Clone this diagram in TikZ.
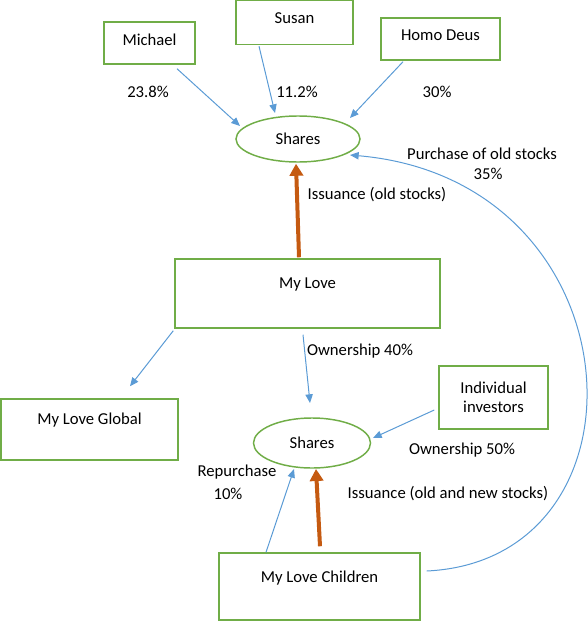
\documentclass[tikz,border=0pt]{standalone}
\usepackage{fontspec}
\setmainfont{Carlito}
\usetikzlibrary{calc,arrows.meta,shapes.geometric}
\definecolor{bgreen}{HTML}{70AD47}
\definecolor{ablue}{HTML}{5B9BD5}
\definecolor{aorange}{HTML}{C55A11}
\begin{document}
\begin{tikzpicture}[x=0.75pt,y=-0.75pt,
  every node/.style={font=\fontsize{12.5}{15}\selectfont, text=black},
  box/.style={draw=bgreen, line width=1.1pt, rectangle, inner sep=0pt},
  shareell/.style={draw=bgreen, line width=1.1pt, ellipse, inner sep=0pt},
  arr/.style={draw=ablue, line width=0.75pt, -{Triangle[length=6.5pt,width=5.5pt]}},
  bigarr/.style={draw=aorange, line width=3pt, -{Triangle[length=9pt,width=10pt]}},
  lbl/.style={inner sep=0pt, align=center}]
\useasboundingbox (0,0) rectangle (587,621);
% boxes
\node[box, minimum width=68.25pt, minimum height=31.5pt,
  label={[shift={(0,-3)}]center:Michael}] (michael) at (149.5,43) {};
\node[box, minimum width=87.75pt, minimum height=33pt,
  label={[shift={(0,-4)}]center:Susan}] (susan) at (294.5,22.5) {};
\node[box, minimum width=89.25pt, minimum height=31.5pt,
  label={[shift={(0,-4)}]center:Homo Deus}] (homo) at (440.5,39) {};
\node[box, minimum width=198.75pt, minimum height=51.75pt,
  label={[shift={(0,-9.5)}]center:My Love}] (mylove) at (307.5,293.5) {};
\node[box, minimum width=132.75pt, minimum height=45.75pt,
  label={[shift={(0,-9.5)}]center:My Love Global}] (global) at (89.5,429.5) {};
\node[box, minimum width=81.75pt, minimum height=47.25pt, align=center] (indiv) at (493.5,397.5) {Individual\\[-1pt]investors};
\node[box, minimum width=150.75pt, minimum height=50.25pt,
  label={[shift={(0,-8.5)}]center:My Love Children}] (children) at (319.5,586.5) {};
% ellipses
\node[shareell, minimum width=93pt, minimum height=34.5pt] (sh1) at (298,139) {Shares};
\node[shareell, minimum width=87.75pt, minimum height=37.5pt] (sh2) at (312,443) {Shares};
% labels
\node[lbl] (l1) at (148,92) {23.8\%};
\node[lbl] (l2) at (297,92) {11.2\%};
\node[lbl] (l3) at (437,92) {30\%};
\node[lbl] (l4) at (482,154) {Purchase of old stocks};
\node[lbl] (l5) at (488,174) {35\%};
\node[lbl] (l6) at (377,195) {Issuance (old stocks)};
\node[lbl] (l7) at (360,351) {Ownership 40\%};
\node[lbl] (l8) at (462,450) {Ownership 50\%};
\node[lbl] (l9) at (237,472) {Repurchase};
\node[lbl] (l10) at (228,494) {10\%};
\node[lbl] (l11) at (448,494) {Issuance (old and new stocks)};
% connectors
\draw[arr] ($(michael.south)+(27.5,4)$) -- ($(sh1.center)+(-58,-13)$);
\draw[arr] ($(susan.south)+(-35.5,1)$) -- ($(sh1.center)+(-23,-26)$);
\draw[arr] ($(homo.south)+(-37.5,1)$) -- ($(sh1.center)+(52,-21)$);
\draw[bigarr] ($(mylove.north)+(-8.5,-1)$) -- ($(sh1.south)+(-2,1)$);
\draw[arr] ($(mylove.south west)+(-1,2)$) -- ($(global.north)+(40.5,-12)$);
\draw[arr] ($(mylove.south)+(-4.5,6)$) -- ($(sh2.center)+(-2,-40)$);
\draw[arr] ($(indiv.west)+(-4,12.5)$) -- ($(sh2.center)+(61,-5)$);
\draw[arr] ($(children.north)+(-53.5,0)$) -- ($(sh2.center)+(-18,26)$);
\draw[bigarr] ($(children.north)+(0.5,-6)$) -- ($(sh2.center)+(4,26)$);
\draw[arr] ($(children.east)+(6,-15.5)$) .. controls (660,560) and (640,180) .. ($(sh1.center)+(52,16)$);
\end{tikzpicture}
\end{document}
